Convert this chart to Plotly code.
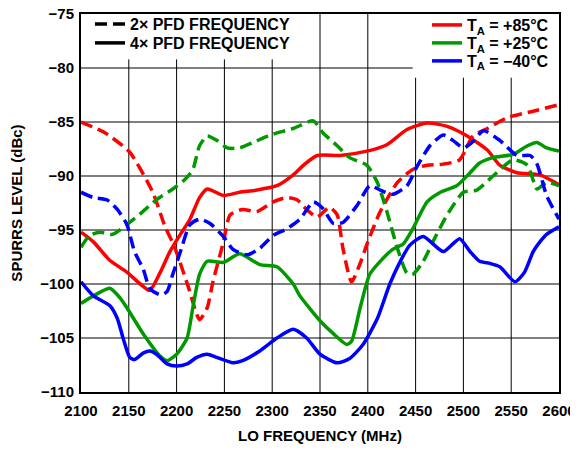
import plotly.graph_objects as go

# ---- data ----
f_r_dash = [2100,2125,2151,2175,2188,2198,2212,2224,2232,2238,2249,2256,2269,2284,2301,2315,2326,2336,2347,2360,2368,2374,2383,2392,2400,2413,2431,2447,2462,2479,2496,2510,2525,2546,2573,2600]
v_r_dash = [-85.0,-86.0,-87.8,-91.5,-94.7,-96.6,-100.2,-103.3,-102.2,-99.8,-96.1,-93.6,-93.1,-93.3,-92.4,-92.0,-92.2,-93.1,-93.8,-92.9,-93.6,-96.7,-99.8,-98.1,-96.1,-93.3,-90.6,-89.4,-89.0,-88.9,-88.5,-86.3,-85.6,-84.6,-84.0,-83.4]

f_r_sol = [2100,2113,2130,2148,2162,2172,2183,2193,2204,2214,2224,2232,2249,2266,2284,2305,2322,2334,2347,2371,2399,2420,2441,2462,2483,2504,2525,2538,2556,2580,2600]
v_r_sol = [-95.2,-96.1,-97.8,-98.9,-100.0,-100.6,-98.9,-97.0,-95.4,-94.0,-92.0,-91.2,-91.8,-91.5,-91.3,-90.9,-89.9,-88.9,-88.1,-88.1,-87.7,-87.1,-85.7,-85.1,-85.4,-86.3,-87.6,-89.0,-89.7,-89.9,-90.8]

f_g_dash = [2100,2109,2120,2133,2148,2162,2179,2196,2209,2217,2224,2232,2242,2253,2266,2280,2298,2322,2343,2353,2368,2381,2399,2410,2420,2431,2441,2447,2458,2468,2483,2500,2514,2531,2552,2567,2577,2587,2600]
v_g_dash = [-96.6,-95.5,-95.2,-95.4,-94.5,-93.5,-92.2,-91.2,-90.3,-89.4,-87.2,-86.3,-86.7,-87.4,-87.4,-86.9,-86.2,-85.6,-84.9,-86.0,-87.2,-88.3,-89.0,-90.6,-93.3,-96.7,-99.0,-99.1,-97.9,-96.1,-93.6,-91.5,-91.3,-90.0,-88.5,-89.0,-91.2,-90.6,-90.9]

f_g_sol = [2100,2113,2130,2141,2148,2165,2183,2190,2200,2211,2217,2224,2232,2249,2266,2287,2305,2322,2329,2350,2364,2378,2383,2392,2402,2413,2426,2437,2447,2462,2476,2493,2507,2517,2531,2552,2567,2577,2587,2600]
v_g_sol = [-101.8,-101.1,-100.4,-101.3,-102.2,-104.6,-106.7,-107.1,-106.5,-105.0,-102.2,-99.1,-97.9,-98.0,-97.2,-98.2,-98.4,-100.0,-101.1,-103.4,-104.6,-105.6,-105.3,-102.2,-99.1,-97.9,-96.8,-96.3,-94.9,-92.4,-91.5,-90.9,-89.7,-88.8,-88.3,-88.0,-87.2,-86.9,-87.4,-87.7]

f_b_dash = [2100,2113,2127,2138,2148,2156,2165,2172,2183,2190,2196,2204,2214,2224,2235,2249,2259,2274,2287,2301,2315,2329,2343,2353,2364,2374,2389,2402,2413,2426,2441,2451,2465,2479,2489,2500,2510,2521,2538,2556,2570,2577,2587,2600]
v_b_dash = [-91.5,-92.0,-92.2,-93.1,-94.5,-97.0,-98.6,-100.4,-101.0,-100.7,-99.1,-97.0,-94.5,-94.0,-94.4,-95.6,-96.8,-97.3,-96.7,-95.5,-94.9,-94.0,-92.4,-93.0,-94.4,-94.3,-92.7,-90.9,-91.3,-91.7,-90.9,-89.2,-87.2,-86.2,-86.7,-87.4,-86.8,-85.8,-86.7,-88.1,-88.1,-88.9,-91.8,-94.0]

f_b_sol = [2100,2113,2130,2138,2144,2151,2156,2165,2172,2179,2190,2200,2211,2221,2232,2242,2259,2269,2287,2305,2322,2336,2350,2368,2381,2395,2410,2423,2434,2444,2458,2479,2496,2507,2517,2528,2538,2554,2564,2573,2580,2587,2600]
v_b_sol = [-99.8,-101.1,-102.0,-103.2,-105.0,-106.8,-107.0,-106.4,-106.2,-106.5,-107.4,-107.6,-107.4,-106.8,-106.5,-106.8,-107.3,-107.1,-106.2,-105.0,-104.2,-105.0,-106.5,-107.3,-106.9,-105.6,-103.2,-100.0,-97.9,-96.4,-95.6,-97.0,-95.8,-97.0,-97.9,-98.1,-98.4,-99.8,-98.9,-97.0,-96.1,-95.4,-94.7]

x_ticks = [2100,2150,2200,2250,2300,2350,2400,2450,2500,2550,2600]
y_ticks = [-110,-105,-100,-95,-90,-85,-80,-75]

pfd_labels = ["2× PFD FREQUENCY", "4× PFD FREQUENCY"]
temp_labels = ["T<sub>A</sub> = +85°C", "T<sub>A</sub> = +25°C", "T<sub>A</sub> = −40°C"]

RED, GREEN, BLUE = "#ff0000", "#009900", "#0000ff"
DASH = "12px,6px"
LW = 3.5
FONT = "Liberation Sans, Arial, sans-serif"

X0, X1 = 2100, 2600
Y0, Y1 = -110, -75
# areas kept clear of grid (behind the legends): (x_left, x_right, y_bottom)
LEG_LEFT = (2100, 2310, -79.2)
LEG_RIGHT = (2447, 2600, -80.9)

series = [
    (f_r_dash, v_r_dash, RED, DASH),
    (f_r_sol, v_r_sol, RED, "solid"),
    (f_g_dash, v_g_dash, GREEN, DASH),
    (f_g_sol, v_g_sol, GREEN, "solid"),
    (f_b_dash, v_b_dash, BLUE, DASH),
    (f_b_sol, v_b_sol, BLUE, "solid"),
]

fig = go.Figure()
for fx, vy, col, dash in series:
    fig.add_trace(go.Scatter(x=fx, y=vy, mode="lines", showlegend=False,
                             line=dict(color=col, width=LW, dash=dash, shape="spline", smoothing=0.6)))

# legend entries, one small legend per entry so each row can be placed
legend_font = dict(family=FONT, size=16, color="black", weight="bold")
entries = [
    (pfd_labels[0], "black", DASH, 0.0188, 0.9735),
    (pfd_labels[1], "black", "solid", 0.0188, 0.9233),
    (temp_labels[0], RED, "solid", 0.7238, 0.9709),
    (temp_labels[1], GREEN, "solid", 0.7238, 0.9233),
    (temp_labels[2], BLUE, "solid", 0.7238, 0.8757),
]
legend_layout = {}
for i, (lab, col, dash, lx, ly) in enumerate(entries):
    key = "legend" if i == 0 else f"legend{i+1}"
    fig.add_trace(go.Scatter(x=[None], y=[None], mode="lines", name=lab,
                             line=dict(color=col, width=LW, dash=dash), legend=key))
    legend_layout[key] = dict(x=lx, y=ly, xanchor="left", yanchor="middle",
                              bgcolor="rgba(0,0,0,0)", borderwidth=0,
                              font=legend_font, itemwidth=30)

# grid lines (drawn below the data), interrupted behind the legends
grid = dict(color="black", width=1)
for xv in x_ticks[1:-1]:
    top = Y1
    for (a, b, yb) in (LEG_LEFT, LEG_RIGHT):
        if a <= xv <= b:
            top = yb
    fig.add_shape(type="line", xref="x", yref="y", x0=xv, x1=xv, y0=Y0, y1=top,
                  line=grid, layer="below")
for yv in y_ticks[1:-1]:
    left, right = X0, X1
    if yv > LEG_LEFT[2]:
        left = LEG_LEFT[1]
    if yv > LEG_RIGHT[2]:
        right = LEG_RIGHT[0]
    if right > left:
        fig.add_shape(type="line", xref="x", yref="y", x0=left, x1=right, y0=yv, y1=yv,
                      line=grid, layer="below")

axis_common = dict(showline=True, linecolor="black", linewidth=2, mirror=True,
                   showgrid=False, zeroline=False, ticklabeloverflow="allow",
                   automargin=False, ticks="", ticklen=0,
                   tickfont=dict(family=FONT, size=15, color="black", weight="bold"),
                   title_font=dict(family=FONT, size=15, color="black", weight="bold"))

fig.update_xaxes(range=[X0, X1], tickvals=x_ticks, ticklabelstandoff=4,
                 title_text="LO FREQUENCY (MHz)", title_standoff=12, **axis_common)
fig.update_yaxes(range=[Y0, Y1], tickvals=y_ticks, ticklabelstandoff=2,
                 title_text="SPURRS LEVEL (dBc)", title_standoff=16, **axis_common)

fig.update_layout(
    width=570, height=442,
    margin=dict(l=73, r=19, t=6, b=58, autoexpand=False),
    plot_bgcolor="white", paper_bgcolor="white",
    **legend_layout,
)

fig.write_html("out.html")
